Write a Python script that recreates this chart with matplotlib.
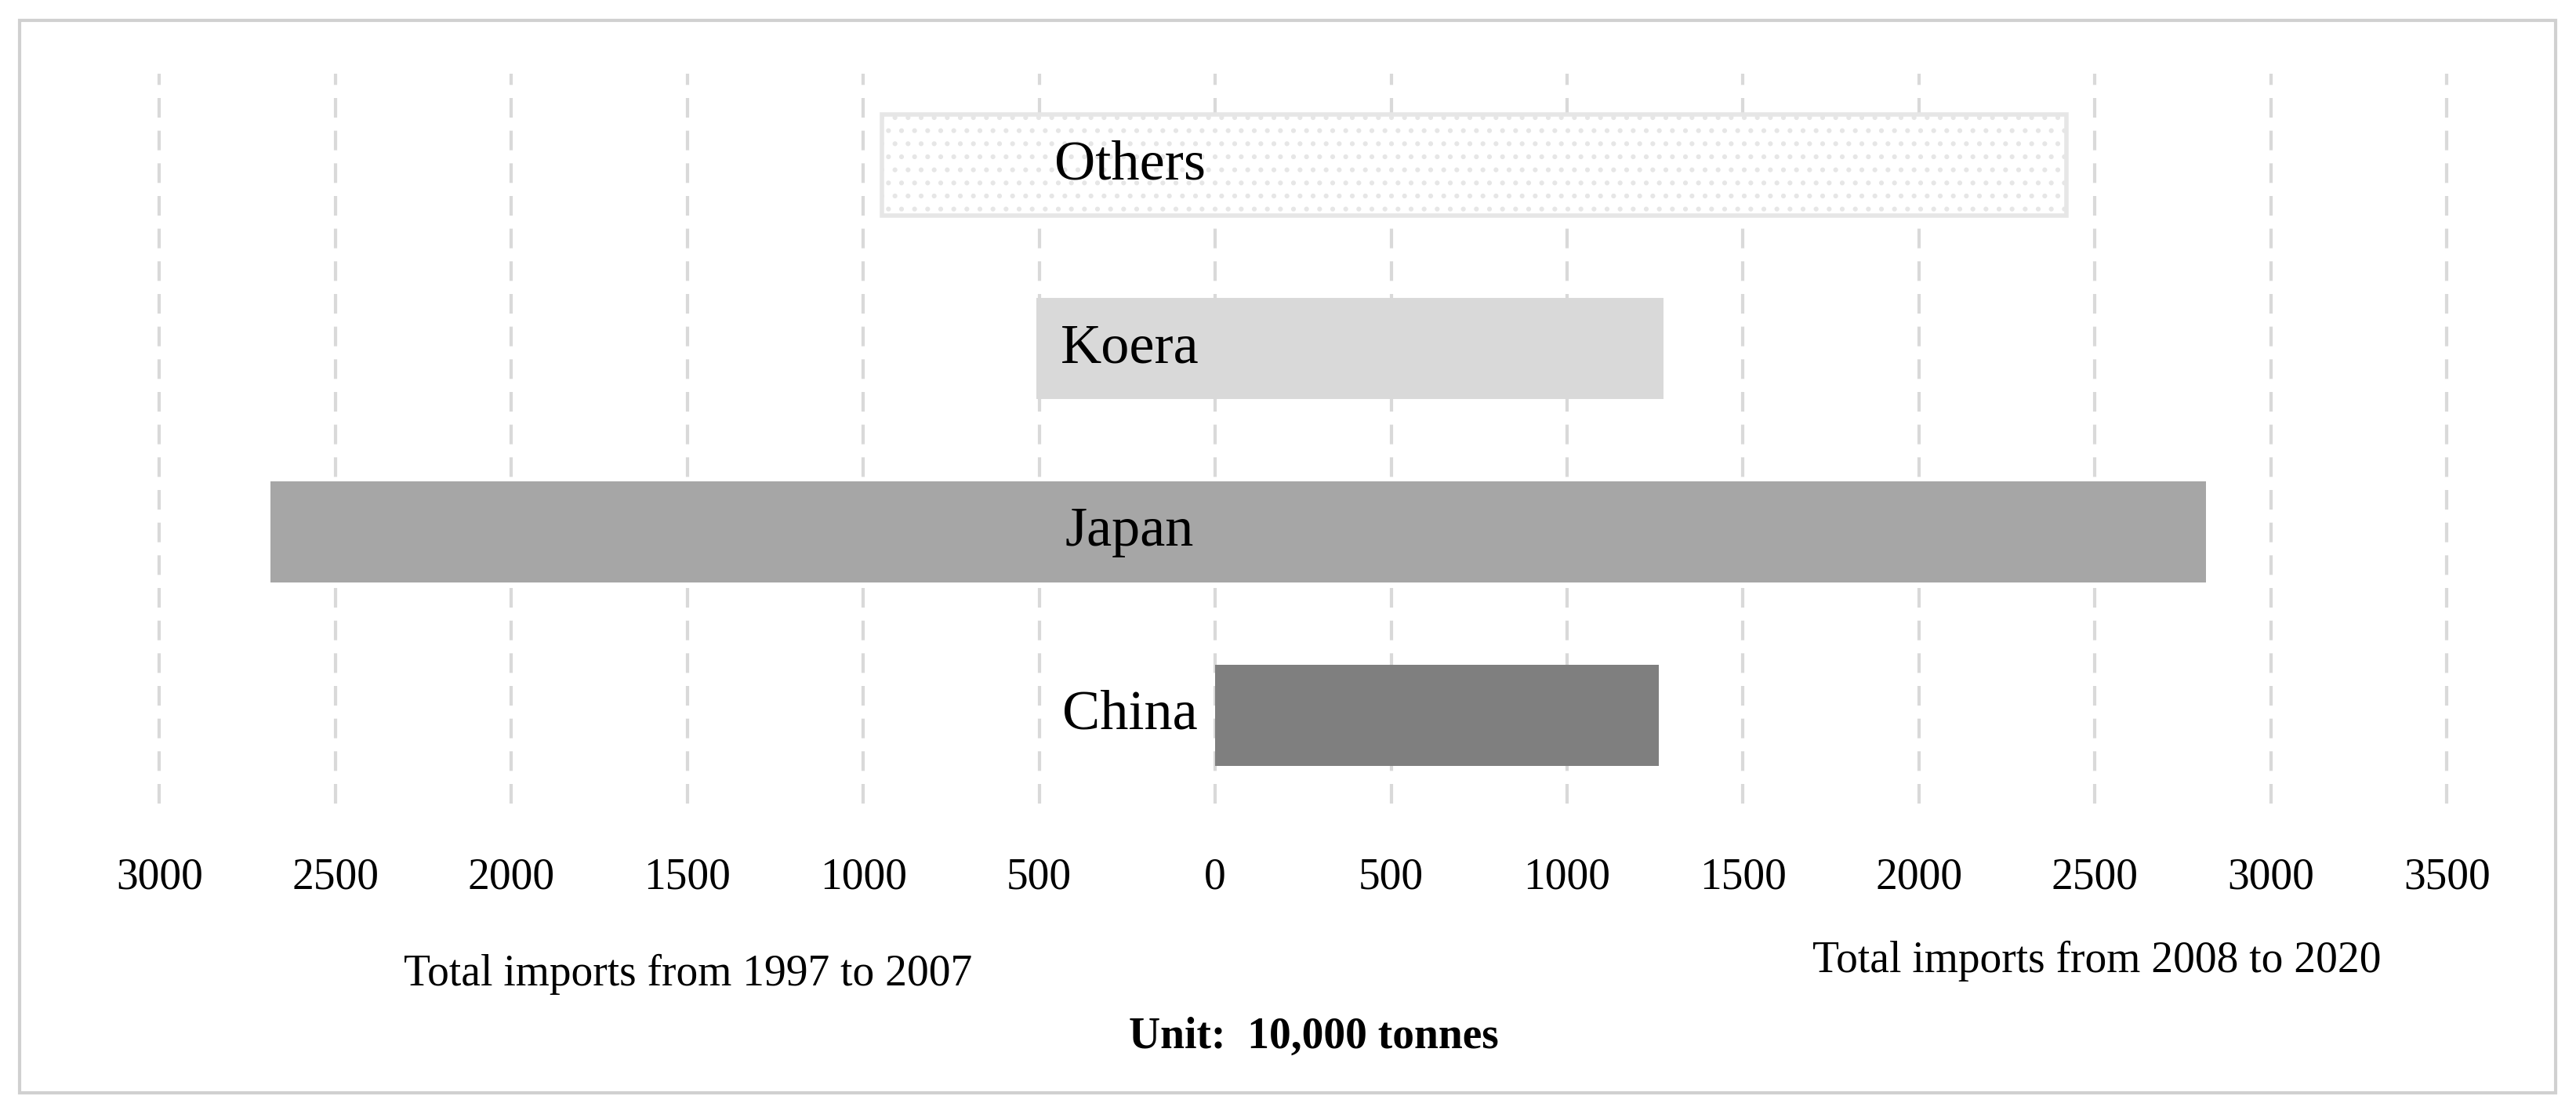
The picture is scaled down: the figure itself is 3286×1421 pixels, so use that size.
import matplotlib.pyplot as plt
from matplotlib.patches import Rectangle
from matplotlib.ticker import FuncFormatter

countries = ['China', 'Japan', 'Koera', 'Others']
imports_1997_2007 = [0, 2684, 509, 948]
imports_2008_2020 = [1260, 2815, 1275, 2418]
colors = ['#7f7f7f', '#a6a6a6', '#d9d9d9', 'white']
ticks = [-3000, -2500, -2000, -1500, -1000, -500, 0, 500, 1000, 1500, 2000, 2500, 3000, 3500]

plt.rcParams['font.family'] = ['Liberation Serif', 'DejaVu Serif']
plt.rcParams['hatch.color'] = '#9a9a9a'
plt.rcParams['hatch.linewidth'] = 2.0

fig = plt.figure(figsize=(32.86, 14.21), dpi=100)
ax = fig.add_axes([0.038, 0.279, 0.931, 0.655])

for i, name in enumerate(countries):
    left = -imports_1997_2007[i]
    width = imports_1997_2007[i] + imports_2008_2020[i]
    if name == 'Others':
        ax.barh(i, width, left=left, height=0.55, color='white', edgecolor='#e6e6e6',
                linewidth=4, hatch='.', zorder=2)
    else:
        ax.barh(i, width, left=left, height=0.55, color=colors[i], zorder=2)
    ax.text(-243, i, name, ha='center', va='center', fontsize=52, zorder=3)

ax.set_xlim(-3175, 3640)
ax.set_ylim(-0.48, 3.5)
ax.set_xticks(ticks)
ax.xaxis.set_major_formatter(FuncFormatter(lambda v, p: f'{abs(int(v))}'))
ax.tick_params(axis='x', labelsize=40, length=0, pad=50)
ax.set_yticks([])
ax.grid(axis='x', color='#d9d9d9', linestyle=(0, (6, 4)), linewidth=3, zorder=0)
for s in ax.spines.values():
    s.set_visible(False)

fig.text(0.267, 0.125, 'Total imports from 1997 to 2007', ha='center', va='center', fontsize=40)
fig.text(0.814, 0.137, 'Total imports from 2008 to 2020', ha='center', va='center', fontsize=40)
fig.text(0.51, 0.069, 'Unit:  10,000 tonnes', ha='center', va='center', fontsize=40, fontweight='bold')

fig.patches.append(Rectangle((0.0077, 0.019), 0.9843, 0.963, transform=fig.transFigure,
                             fill=False, edgecolor='#d0d0d0', linewidth=3))

fig.savefig('out.png')
